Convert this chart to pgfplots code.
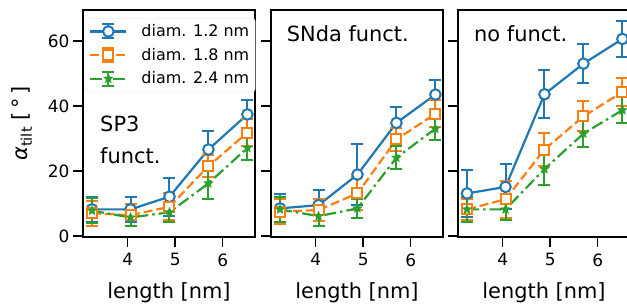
\documentclass[border=0pt]{standalone}
\usepackage{fontspec}
\setmainfont{DejaVu Sans}
\usepackage{pgfplots}
\pgfplotsset{compat=1.18}
\usepackage{pgfplotstable}
\definecolor{cB}{HTML}{1F77B4}
\definecolor{cO}{HTML}{FF7F0E}
\definecolor{cG}{HTML}{2CA02C}
\pgfdeclareplotmark{fstar}{%
 \pgfpathmoveto{\pgfpointpolar{90}{\pgfplotmarksize}}%
 \pgfpathlineto{\pgfpointpolar{126}{0.45\pgfplotmarksize}}%
 \pgfpathlineto{\pgfpointpolar{162}{\pgfplotmarksize}}%
 \pgfpathlineto{\pgfpointpolar{198}{0.45\pgfplotmarksize}}%
 \pgfpathlineto{\pgfpointpolar{234}{\pgfplotmarksize}}%
 \pgfpathlineto{\pgfpointpolar{270}{0.45\pgfplotmarksize}}%
 \pgfpathlineto{\pgfpointpolar{306}{\pgfplotmarksize}}%
 \pgfpathlineto{\pgfpointpolar{342}{0.45\pgfplotmarksize}}%
 \pgfpathlineto{\pgfpointpolar{18}{\pgfplotmarksize}}%
 \pgfpathlineto{\pgfpointpolar{54}{0.45\pgfplotmarksize}}%
 \pgfpathclose
 \pgfusepathqfillstroke
}
% x y err
\pgfplotstableread{
x y e
3.25 8.2 3.9
4.06 8.2 3.9
4.88 12.1 5.8
5.70 26.6 5.8
6.52 37.4 4.5
}\pAb
\pgfplotstableread{
x y e
3.25 7.0 3.8
4.06 6.4 3.4
4.88 9.0 4.2
5.70 21.5 3.4
6.52 31.8 4.2
}\pAo
\pgfplotstableread{
x y e
3.25 7.8 3.8
4.06 5.7 2.7
4.88 7.3 3.0
5.70 16.2 4.9
6.52 27.1 3.6
}\pAg
\pgfplotstableread{
x y e
3.25 8.5 4.4
4.06 9.5 4.8
4.88 18.9 9.5
5.70 34.8 4.9
6.52 43.5 4.4
}\pBb
\pgfplotstableread{
x y e
3.25 7.5 3.9
4.06 8.0 3.5
4.88 13.1 5.0
5.70 29.7 3.5
6.52 37.6 4.1
}\pBo
\pgfplotstableread{
x y e
3.25 8.2 3.8
4.06 6.1 2.9
4.88 8.5 3.0
5.70 24.1 3.6
6.52 33.0 3.6
}\pBg
\pgfplotstableread{
x y e
3.25 13.1 7.1
4.06 15.1 6.9
4.88 43.6 7.3
5.70 53.0 5.9
6.52 60.6 5.4
}\pCb
\pgfplotstableread{
x y e
3.25 8.2 3.2
4.06 11.3 5.7
4.88 26.6 5.2
5.70 36.8 4.6
6.52 44.3 4.4
}\pCo
\pgfplotstableread{
x y e
3.25 8.2 3.8
4.06 8.2 3.2
4.88 20.6 5.0
5.70 31.5 4.2
6.52 38.7 4.0
}\pCg
\pgfplotsset{
 myax/.style={
  scale only axis, width=172bp, height=227bp,
  xmin=3.06, xmax=6.68, ymin=-0.3, ymax=69.5,
  xtick={4,5,6}, ytick={0,20,40,60},
  tick align=outside, major tick length=10bp,
  axis line style={line width=1.8bp},
  every tick/.style={black, line width=1.5bp},
  xtick pos=bottom, ytick pos=left,
  tick label style={font=\fontsize{17}{20}\selectfont},
  xticklabel style={yshift=-3bp},
  /pgf/number format/assume math mode=true,
  xlabel={length [nm]},
  xlabel style={font=\fontsize{21}{25}\selectfont, at={(axis description cs:0.5,0)}, anchor=base, yshift=-61bp},
  clip=false,
 },
 eb/.style={error bars/y dir=both, error bars/y explicit,
   error bars/error bar style={solid, line width=2bp},
   error bars/error mark options={rotate=90, solid, mark size=6bp, line width=2bp}},
 sB/.style={cB, line width=2.2bp, mark=*, mark size=5.3bp, mark options={solid, fill=white, line width=2bp}, eb},
 sO/.style={cO, line width=2.2bp, dash pattern=on 9bp off 4bp, mark=square*, mark size=5bp, mark options={solid, fill=white, line width=2bp}, eb},
 sG/.style={cG, line width=2.2bp, dash pattern=on 12bp off 4bp on 2.5bp off 4bp, mark=fstar, mark size=4.5bp, mark options={solid, fill=cG, line width=0.8bp}, eb},
 legimg/.style={legend image code/.code={%
   \draw[##1, solid, mark=none, line width=2bp] (18bp,-7bp) -- (18bp,7bp) (12bp,-7bp) -- (24bp,-7bp) (12bp,7bp) -- (24bp,7bp);
   \draw[mark repeat=2, mark phase=2, ##1] plot coordinates {(0bp,0bp) (18bp,0bp) (36bp,0bp)};
 }},
}
\begin{document}
\begin{tikzpicture}
\begin{axis}[myax, at={(83bp,68bp)}, anchor=south west,
  ylabel={{\itshape α}\textsubscript{tilt} [\,°\,]},
  ylabel style={font=\fontsize{21}{25}\selectfont, at={(axis description cs:-0.32,0.5)}, anchor=base, rotate=0},
  legend cell align=left,
  legend style={at={(axis description cs:0.012,0.965)}, anchor=north west, draw=black!10, rounded corners=3bp,
    font=\fontsize{16}{19}\selectfont, row sep=6bp, inner xsep=4bp, inner ysep=4.5bp,
    /tikz/every odd column/.append style={column sep=12bp}},
  ]
\addplot[sB, legimg] table[x=x, y=y, y error=e] {\pAb};
\addlegendentry{diam. 1.2 nm}
\addplot[sO, legimg] table[x=x, y=y, y error=e] {\pAo};
\addlegendentry{diam. 1.8 nm}
\addplot[sG, legimg] table[x=x, y=y, y error=e] {\pAg};
\addlegendentry{diam. 2.4 nm}
\node[anchor=base west, inner sep=0pt, font=\fontsize{21}{25}\selectfont] at (axis description cs:0.099,0.464) {SP3};
\node[anchor=base west, inner sep=0pt, font=\fontsize{21}{25}\selectfont] at (axis description cs:0.099,0.325) {funct.};
\end{axis}
\begin{axis}[myax, at={(271bp,68bp)}, anchor=south west, yticklabels={}]
\addplot[sB] table[x=x, y=y, y error=e] {\pBb};
\addplot[sO] table[x=x, y=y, y error=e] {\pBo};
\addplot[sG] table[x=x, y=y, y error=e] {\pBg};
\node[anchor=base west, inner sep=0pt, font=\fontsize{21}{25}\selectfont] at (axis description cs:0.091,0.860) {SNda funct.};
\end{axis}
\begin{axis}[myax, at={(458bp,68bp)}, anchor=south west, yticklabels={}]
\addplot[sB] table[x=x, y=y, y error=e] {\pCb};
\addplot[sO] table[x=x, y=y, y error=e] {\pCo};
\addplot[sG] table[x=x, y=y, y error=e] {\pCg};
\node[anchor=base west, inner sep=0pt, font=\fontsize{21}{25}\selectfont] at (axis description cs:0.093,0.860) {no funct.};
\end{axis}
\pgfresetboundingbox
\path[use as bounding box] (0,0) rectangle (627bp,305bp);
\end{tikzpicture}
\end{document}
